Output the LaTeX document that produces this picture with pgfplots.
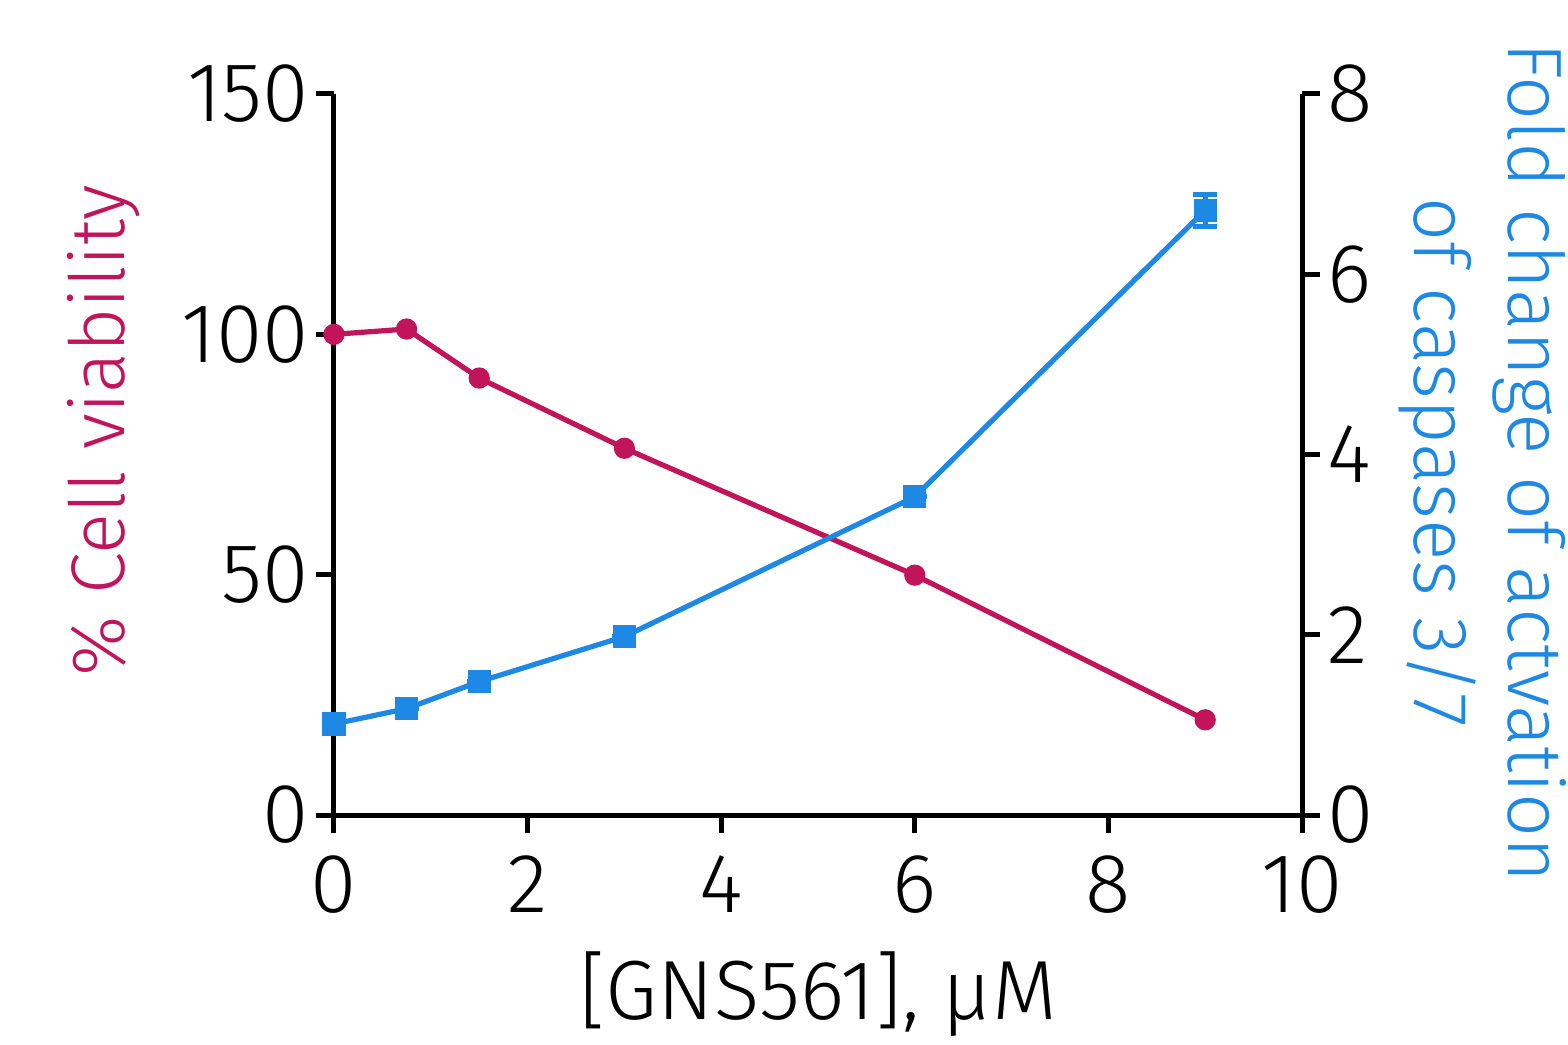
\documentclass[border=0pt]{standalone}
\usepackage{fontspec}
\setmainfont{Fira Sans}[UprightFont=* Light]
\usepackage{pgfplots}
\pgfplotsset{compat=1.18}

\definecolor{viab}{RGB}{194,20,90}
\definecolor{casp}{RGB}{30,136,229}

\pgfplotsset{
  common/.style={
    scale only axis,
    width=484pt, height=360.5pt,
    xmin=0, xmax=10,
    clip=false,
    tick align=outside,
    major tick length=9pt,
    every tick/.style={black, line width=2.5pt},
    axis line style={line width=2.5pt, black},
    tick label style={font=\fontsize{42}{48}\selectfont},
    label style={font=\fontsize{42}{48}\selectfont},
    /pgf/number format/assume math mode=true,
  }
}

\begin{document}
\begin{tikzpicture}
\useasboundingbox (-167pt,-114.5pt) rectangle (617pt,407.5pt);
\begin{axis}[
    common,
    axis x line*=bottom,
    axis y line*=left,
    ymin=0, ymax=150,
    xtick={0,2,4,6,8,10},
    ytick={0,50,100,150},
    xticklabel style={yshift=-8pt},
    xlabel={[GNS561], µM},
    ylabel={\% Cell viability},
    ylabel style={text=viab, font=\fontsize{38}{44}\selectfont, yshift=14pt, xshift=12pt},
    xlabel style={yshift=-12pt},
]
\addplot[viab, line width=2.6pt, mark=*, mark size=4pt] coordinates {
    (0,100) (0.75,101.1) (1.5,90.9) (3,76.3) (6,49.9) (9,19.8)
};
\end{axis}
\begin{axis}[
    common,
    axis x line=none,
    axis y line*=right,
    ymin=0, ymax=8,
    ytick={0,2,4,6,8},
    ylabel={Fold change of actvation\\of caspases 3/7},
    ylabel style={text=casp, font=\fontsize{38.5}{47}\selectfont, rotate=180,
        align=center, yshift=6pt, xshift=4pt},
]
\addplot[casp, line width=2.6pt, mark=square*, mark size=4.5pt,
    error bars/.cd, y dir=both, y explicit,
    error bar style={line width=2.5pt},
    error mark options={rotate=90, mark size=6pt, line width=2.5pt}]
  coordinates {
    (0,1.01) +- (0,0) (0.75,1.18) +- (0,0) (1.5,1.48) +- (0,0)
    (3,1.98) +- (0,0) (6,3.53) +- (0,0) (9,6.71) +- (0,0.18)
};
\end{axis}
\end{tikzpicture}
\end{document}
